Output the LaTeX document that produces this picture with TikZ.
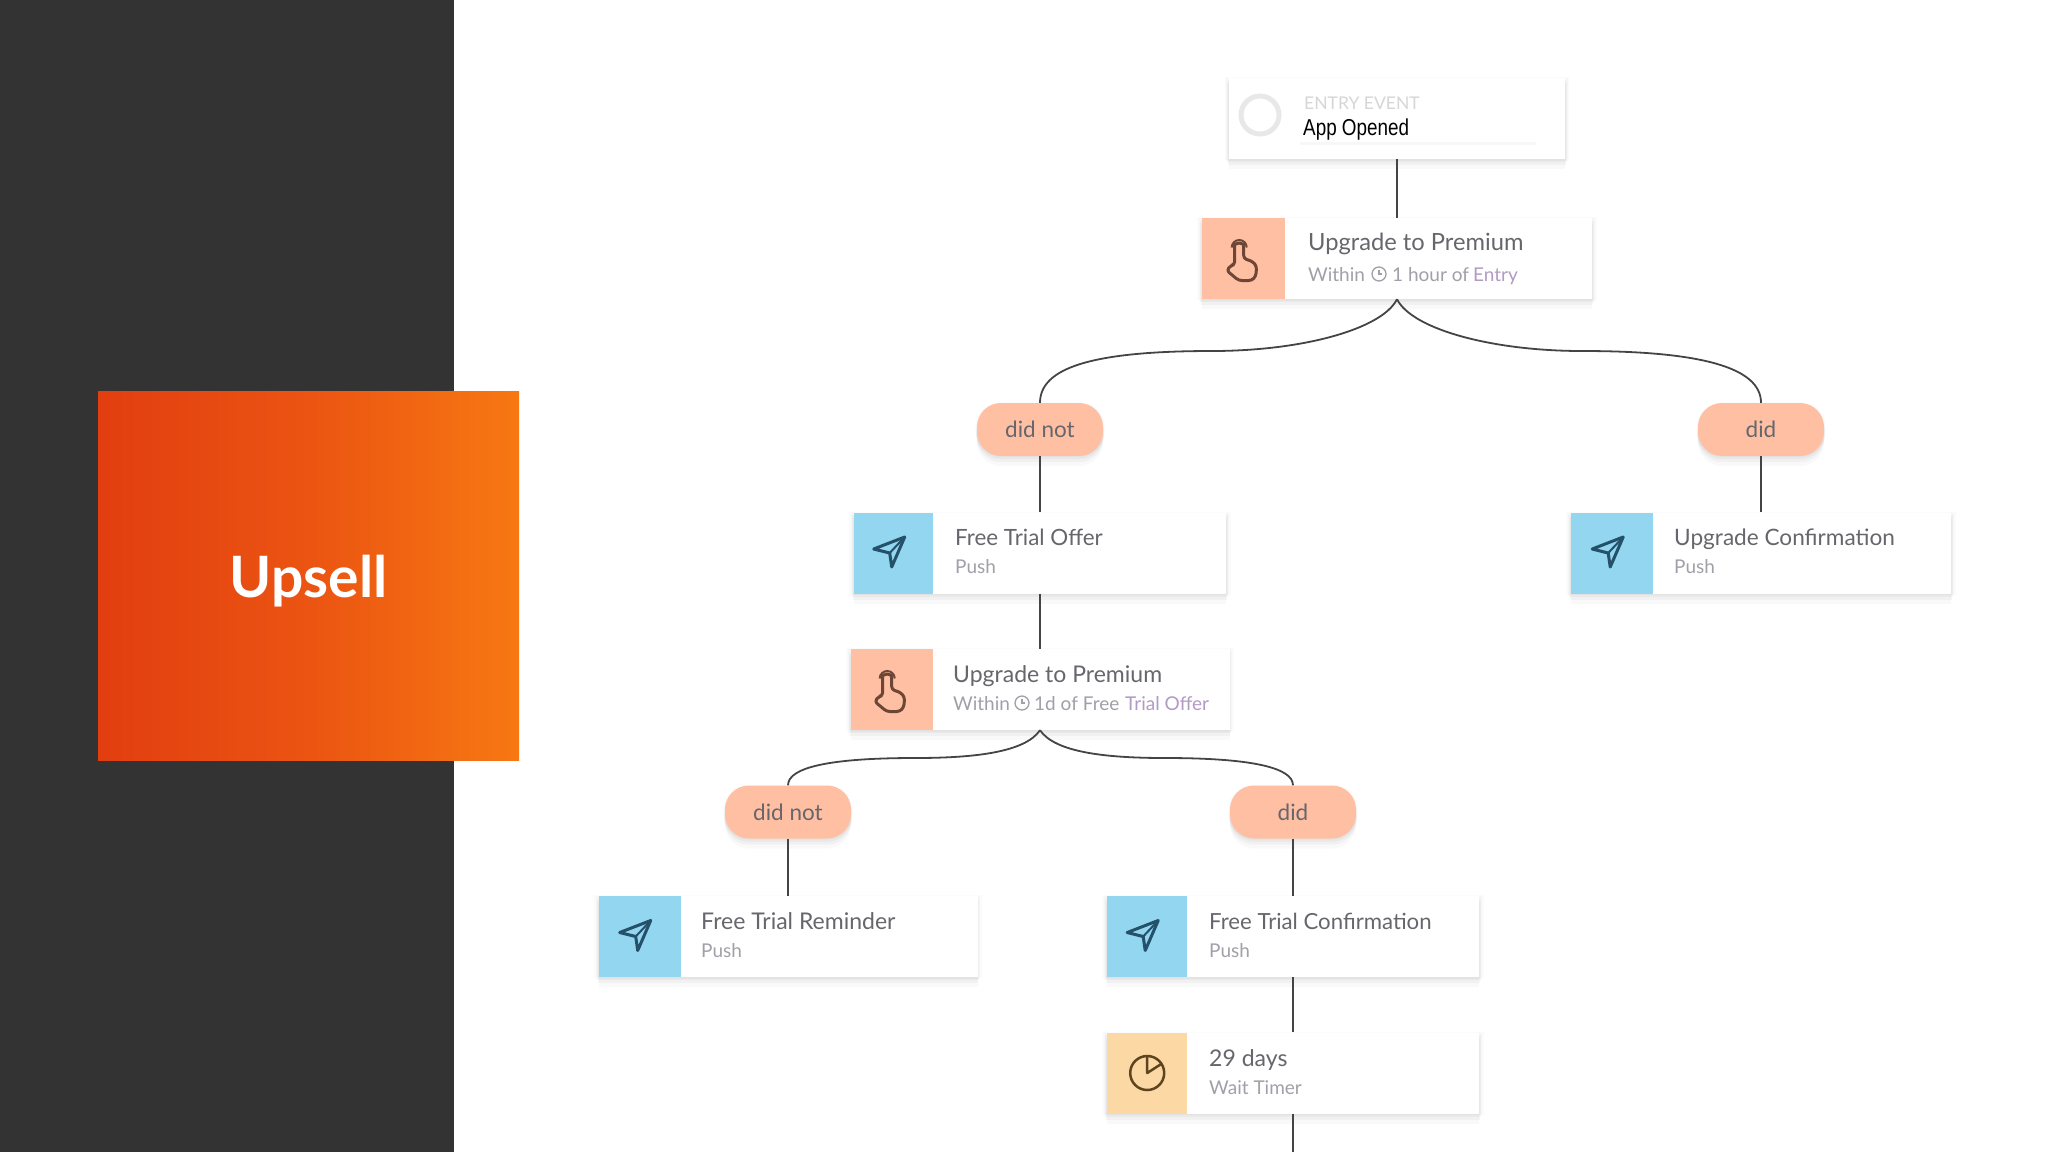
\documentclass[tikz,border=0pt]{standalone}
\usepackage{fontspec}
\usetikzlibrary{shadows}
\setmainfont{Lato}
\newfontfamily\narrowfont[FakeStretch=0.82]{Liberation Sans}
\definecolor{sidegray}{HTML}{333333}
\definecolor{peach}{HTML}{FFBFA3}
\definecolor{skyblue}{HTML}{92D6F0}
\definecolor{sand}{HTML}{FBD8A4}
\definecolor{linegray}{HTML}{444448}
\definecolor{titlegray}{HTML}{66666C}
\definecolor{subgray}{HTML}{A0A0A8}
\definecolor{entrypurple}{HTML}{B39AC4}
\definecolor{planeblue}{HTML}{24506A}
\definecolor{handbrown}{HTML}{6E4636}
\definecolor{clockbrown}{HTML}{5E4520}
\tikzset{
  softshadow/.style={
    general shadow={shadow xshift=0pt,shadow yshift=0pt,shadow scale=1.025,opacity=.015,fill=black},
    general shadow={shadow xshift=0pt,shadow yshift=-1pt,shadow scale=1.015,opacity=.02,fill=black},
    general shadow={shadow xshift=0pt,shadow yshift=-3pt,shadow scale=1.01,opacity=.03,fill=black},
    general shadow={shadow xshift=0pt,shadow yshift=-6pt,shadow scale=1.005,opacity=.03,fill=black},
    general shadow={shadow xshift=0pt,shadow yshift=-10pt,shadow scale=1.0,opacity=.025,fill=black}},
  cardbox/.style={fill=white,softshadow,inner sep=0pt,minimum width=#1,minimum height=81pt},
  iconbox/.style={inner sep=0pt,minimum height=81pt,anchor=west,fill=#1},
  pillbox/.style={fill=peach,softshadow,rounded corners=24pt,inner sep=0pt,
    minimum width=126pt,minimum height=53pt,text=titlegray,font=\fontsize{22.5}{26}\selectfont},
  cardtitle/.style={anchor=base west,inner sep=0pt,text=titlegray,font=\fontsize{23}{27}\selectfont},
  cardsub/.style={anchor=base west,inner sep=0pt,text=subgray,font=\fontsize{19}{23}\selectfont},
  link/.style={draw=linegray,line width=1.8pt},
  pics/pushicon/.style={code={
    \draw[draw=planeblue,line width=3pt,line join=round] (11,-16) -- (-20,-4) -- (-4,0) -- (-2,14) -- cycle;
    \draw[draw=planeblue,line width=2pt] (-4,0) -- (11,-16);}},
  pics/tapicon/.style={code={
    \draw[draw=handbrown,line width=3pt,line join=round,rounded corners=3pt]
      (-9,6) -- (-9,-11) arc (180:360:4.5) -- (0,0) -- (9,3) -- (13,8) -- (12,18) -- (8,22)
      -- (-5,22) -- (-17,12) -- (-13,7) -- cycle;
    \draw[draw=handbrown,line width=2pt] (-12,-11) arc (180:360:7.5);}},
  pics/timericon/.style={code={
    \draw[draw=clockbrown,line width=2.5pt] (0,0) circle (17);
    \draw[draw=clockbrown,line width=2.5pt,line join=round] (0,-17) -- (0,0) -- (14,-9);}},
  pics/minitimer/.style={code={
    \draw[draw=subgray,line width=1.3pt] (0,0) circle (7);
    \draw[draw=subgray,line width=1.1pt] (0,-4) -- (0,0) -- (3,0);}}
}
\begin{document}
\begin{tikzpicture}[x=1pt,y=-1pt]
\useasboundingbox (0,0) rectangle (2048,1152);
\fill[sidegray] (0,0) rectangle (454,1152);
\node [inner sep=0pt,minimum width=421pt,minimum height=369pt,
  left color={rgb,255:red,226;green,62;blue,16},right color={rgb,255:red,247;green,120;blue,18},
  middle color={rgb,255:red,235;green,84;blue,18}] (panel) at (308.5,575.5) {};
\node [anchor=base,inner sep=0pt,text=white,font=\fontsize{57}{62}\selectfont\bfseries] (upsell) at (308.5,597) {Upsell};
% entry event
\node [cardbox=336pt] (entry) at (1397,118.5) {};
\draw [draw=black!9,line width=5pt] (1260,115) circle (19);
\node [anchor=base west,inner sep=0pt,text=black!16,font=\fontsize{17.5}{20}\selectfont] (entrytag) at (1304,109) {ENTRY EVENT};
\node [anchor=base west,inner sep=0pt,text=black,font=\fontsize{23}{27}\narrowfont] (entryname) at (1303,135) {App Opened};
\draw [draw=black!3,line width=3pt] (1300,143) -- (1536,143);
% first goal
\node [cardbox=390pt] (upgradeA) at (1397,258.5) {};
\node [iconbox=peach,minimum width=83pt] (tapA) at (1202,258.5) {};
\pic at (tapA) {tapicon};
\node [cardtitle,font=\fontsize{23.7}{27}\selectfont] (upgradeAtitle) at (1308,250) {Upgrade to Premium};
\node [cardsub] (upgradeAsub) at (1308,281) {Within};
\pic at (1379,274) {minitimer};
\node [cardsub] (upgradeAtime) at (1392,281) {1 hour of};
\node [cardsub,text=entrypurple] (upgradeAref) at (1473,281) {Entry};
% first split
\node [pillbox] (didnotA) at (1040,429.5) {did not};
\node [pillbox] (didA) at (1761,429.5) {did};
\coordinate (midAl) at (1212,351);
\coordinate (midAr) at (1582,351);
% offer
\node [cardbox=372pt] (offer) at (1040,553) {};
\node [iconbox=skyblue,minimum width=79pt] (pushA) at (854,553) {};
\pic at (pushA) {pushicon};
\node [cardtitle,font=\fontsize{22.4}{27}\selectfont] (offertitle) at (955,545) {Free Trial Offer};
\node [cardsub] (offersub) at (955,573) {Push};
\node [cardbox=380pt] (confirmA) at (1761,553) {};
\node [iconbox=skyblue,minimum width=82pt] (pushB) at (1571,553) {};
\pic at (pushB) {pushicon};
\node [cardtitle,font=\fontsize{22.6}{27}\selectfont] (confirmAtitle) at (1674,545) {Upgrade Confirmation};
\node [cardsub] (confirmAsub) at (1674,573) {Push};
% second goal
\node [cardbox=379pt] (upgradeB) at (1040,689.5) {};
\node [iconbox=peach,minimum width=82pt] (tapB) at (850.5,689.5) {};
\pic at (tapB) {tapicon};
\node [cardtitle] (upgradeBtitle) at (953,682) {Upgrade to Premium};
\node [cardsub] (upgradeBsub) at (953,710) {Within};
\pic at (1022,703) {minitimer};
\node [cardsub] (upgradeBtime) at (1034,710) {1d of Free};
\node [cardsub,text=entrypurple] (upgradeBref) at (1125,710) {Trial Offer};
% second split
\node [pillbox] (didnotB) at (788,812) {did not};
\node [pillbox] (didB) at (1293,812) {did};
\coordinate (midBl) at (915,758);
\coordinate (midBr) at (1165,758);
% last row
\node [cardbox=379pt] (reminder) at (788,936.5) {};
\node [iconbox=skyblue,minimum width=82pt] (pushC) at (598.5,936.5) {};
\pic at (pushC) {pushicon};
\node [cardtitle] (remindertitle) at (701,929) {Free Trial Reminder};
\node [cardsub] (remindersub) at (701,957) {Push};
\node [cardbox=372pt] (confirmB) at (1293,936.5) {};
\node [iconbox=skyblue,minimum width=80pt] (pushD) at (1107,936.5) {};
\pic at (pushD) {pushicon};
\node [cardtitle,font=\fontsize{22.2}{27}\selectfont] (confirmBtitle) at (1209,929) {Free Trial Confirmation};
\node [cardsub] (confirmBsub) at (1209,957) {Push};
\node [cardbox=372pt] (waiting) at (1293,1073) {};
\node [iconbox=sand,minimum width=80pt] (clockbox) at (1107,1073) {};
\pic at (clockbox) {timericon};
\node [cardtitle] (waitingtitle) at (1209,1066) {29 days};
\node [cardsub] (waitingsub) at (1209,1094) {Wait Timer};
\coordinate (bottomend) at (1293,1152);
% connectors
\draw [link] (entry.south) -- (upgradeA.north);
\draw [link] (upgradeA.south) .. controls +(-15,30) and +(90,0) .. (midAl)
  .. controls +(-120,0) and +(0,-35) .. (didnotA.north);
\draw [link] (upgradeA.south) .. controls +(15,30) and +(-90,0) .. (midAr)
  .. controls +(120,0) and +(0,-35) .. (didA.north);
\draw [link] (didnotA.south) -- (offer.north);
\draw [link] (didA.south) -- (confirmA.north);
\draw [link] (offer.south) -- (upgradeB.north);
\draw [link] (upgradeB.south) .. controls +(-15,22) and +(60,0) .. (midBl)
  .. controls +(-85,0) and +(0,-18) .. (didnotB.north);
\draw [link] (upgradeB.south) .. controls +(15,22) and +(-60,0) .. (midBr)
  .. controls +(85,0) and +(0,-18) .. (didB.north);
\draw [link] (didnotB.south) -- (reminder.north);
\draw [link] (didB.south) -- (confirmB.north);
\draw [link] (confirmB.south) -- (waiting.north);
\draw [link] (waiting.south) -- (bottomend);
\end{tikzpicture}
\end{document}
